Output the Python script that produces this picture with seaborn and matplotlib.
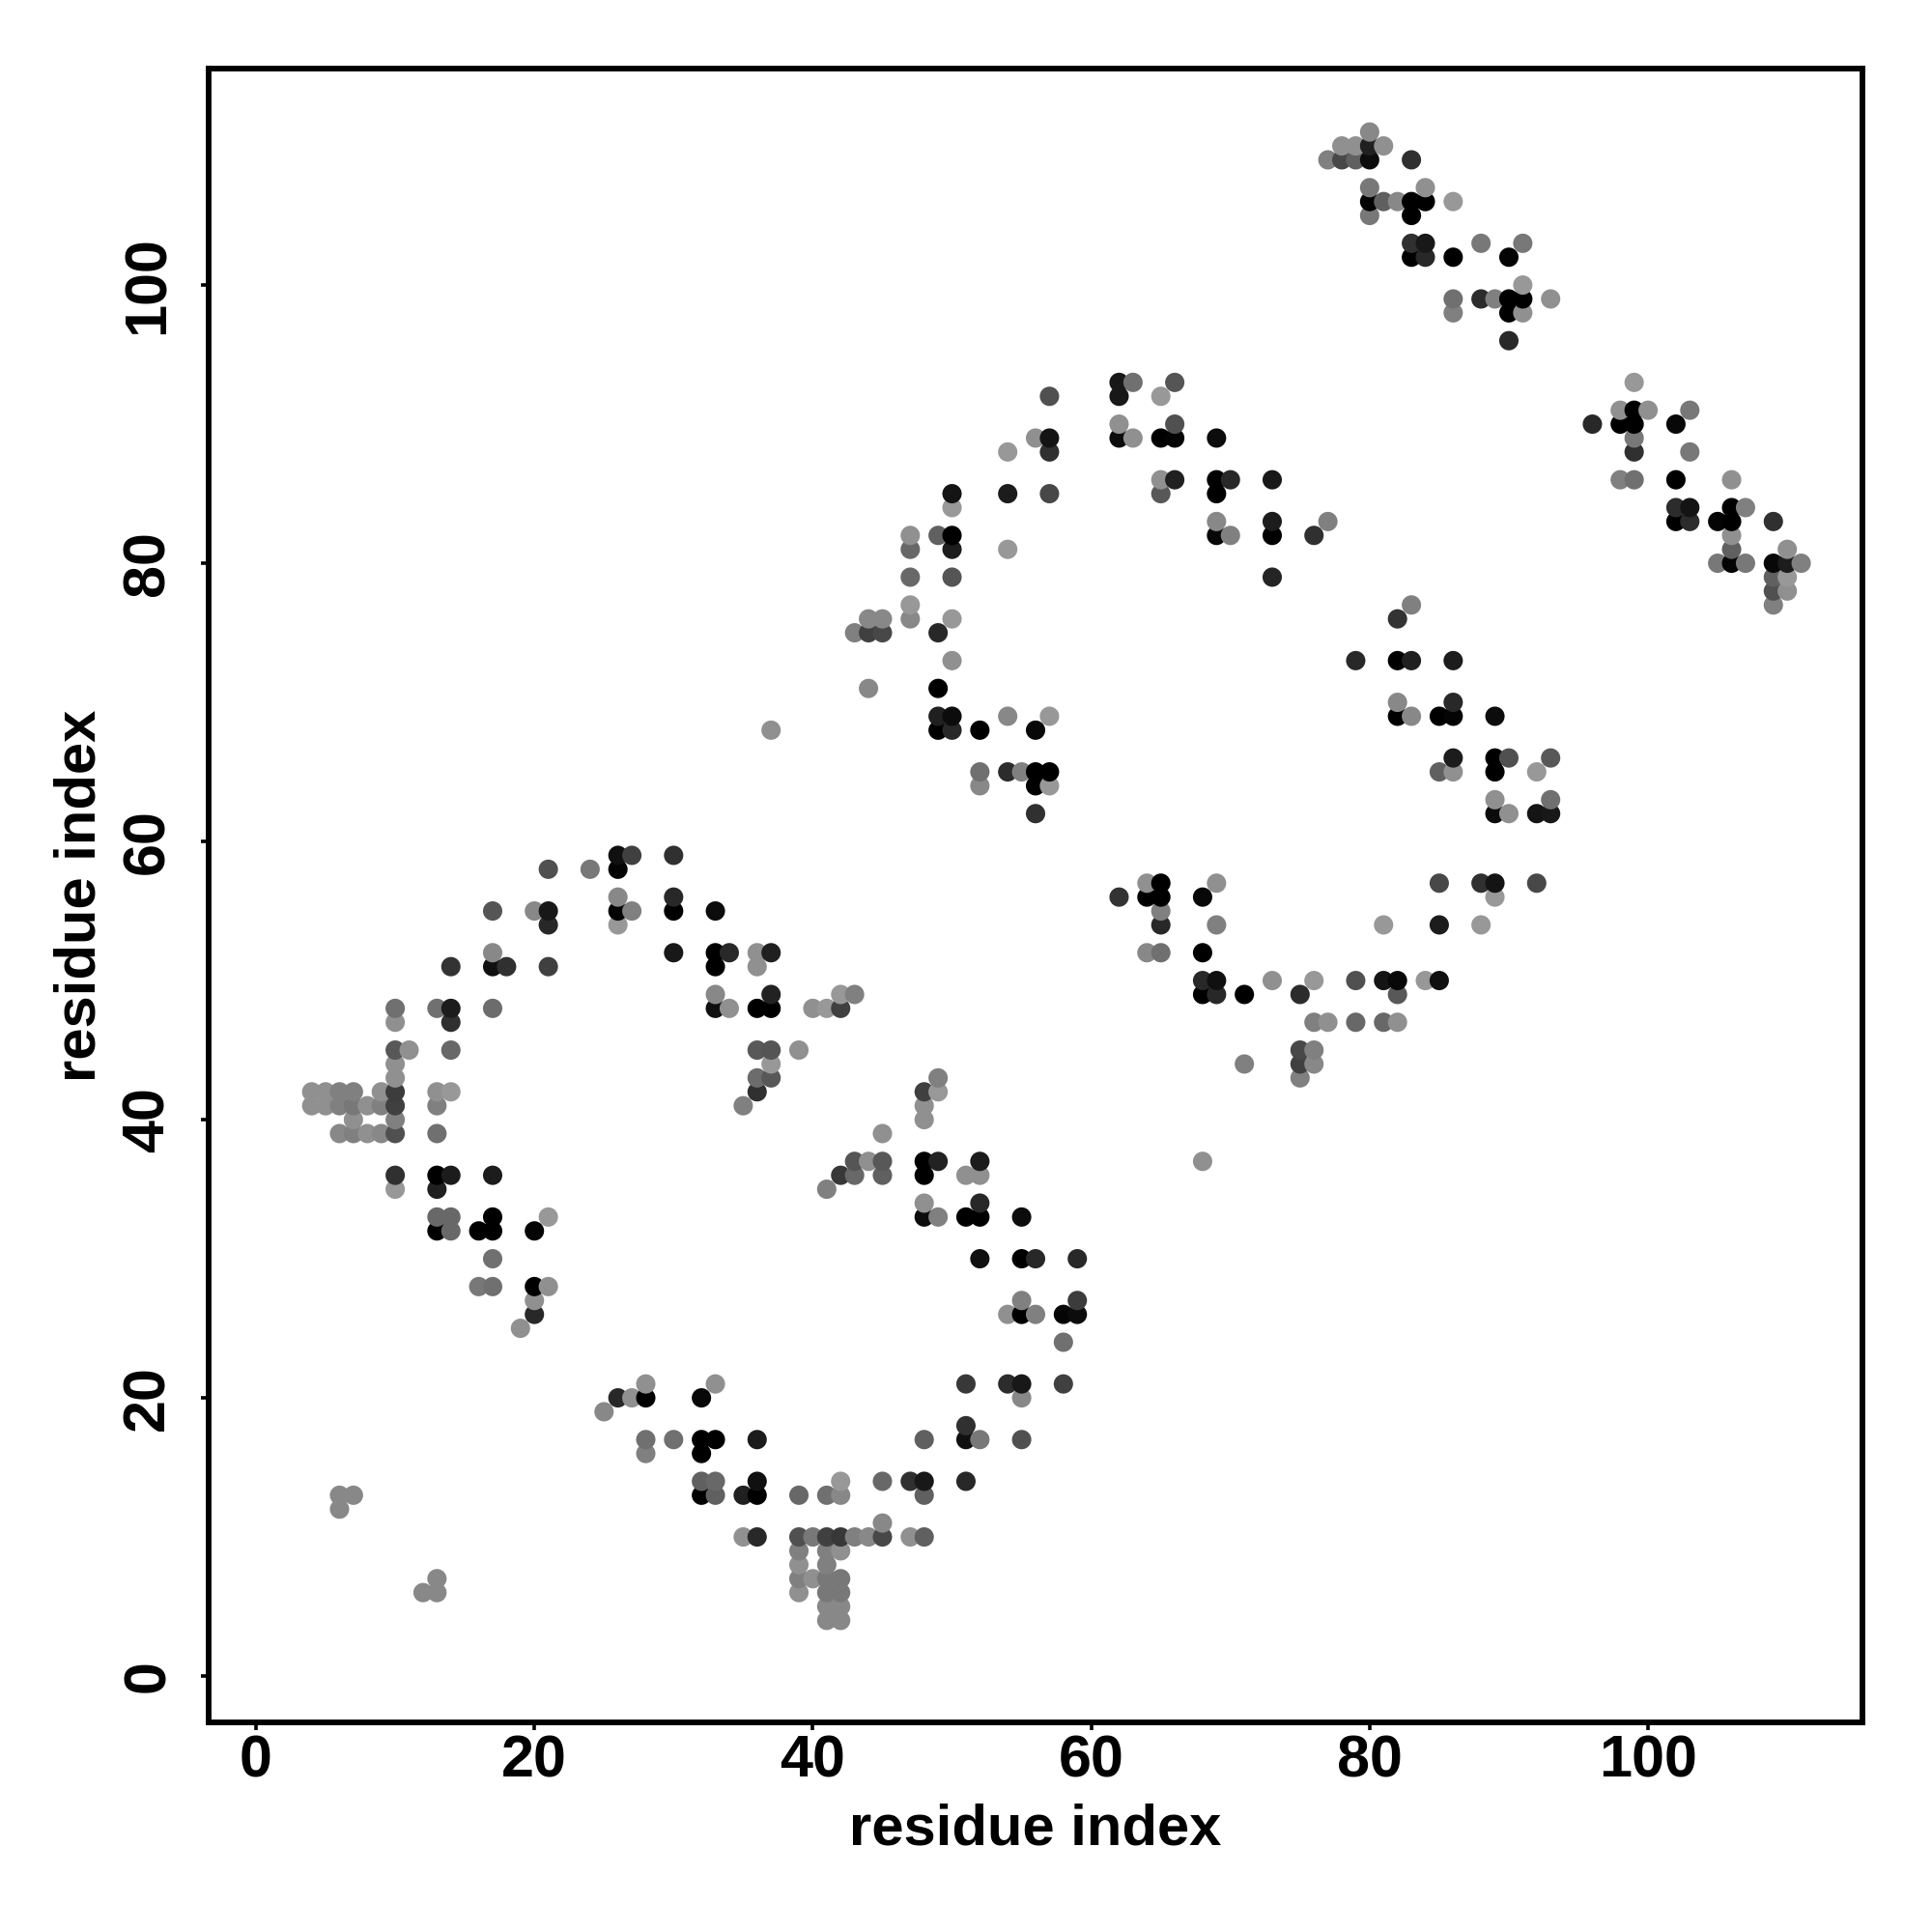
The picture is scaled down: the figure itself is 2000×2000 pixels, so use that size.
import pandas as pd
import matplotlib
matplotlib.use("Agg")
import matplotlib.pyplot as plt
import seaborn as sns

# one row per residue index on the y axis: the partner residues and their grey level (0-255)
row_y = [111,110,109,107,106,105,103,102,100,99,98,96,93,92,91,90,89,88,86,85,84,83,82,81,80,79,78,77,76,75,73,71,70,69,68,66,65,64,63,62,59,58,57,56,55,54,52,51,50,49,48,47,45,44,43,42,41,40,39,37,36,35,34,33,32,30,28,27,26,25,24,21,20,19,18,17,16,14,13,12,11,10,9,8,7,6,5,4]
row_x = [
 [80],[78,79,80,81],[77,78,79,80,83],[80,84],[80,81,82,83,84,86],[80,83],
 [83,84,88,91],[83,84,86,90],[91],[86,88,89,90,91,93],[86,90,91],[90],
 [62,63,66,99],[57,62,65],[98,99,100,103],[62,66,96,98,99,102],[56,57,62,63,65,66,69,99],
 [54,57,99,103],[65,66,69,70,73,98,99,102,106],[50,54,57,65,69],[50,102,103,106,107],
 [69,73,77,102,103,105,106,109],[47,49,50,69,70,73,76,106],[47,50,54,106,110],
 [105,106,107,109,110,111],[47,50,73,109,110],[109,110],[47,83,109],[44,45,47,50,82],
 [43,44,45,49],[50,79,82,83,86],[44,49],[82,86],[49,50,54,57,82,83,85,86,89],
 [37,49,50,52,56],[86,89,90,93],[52,54,55,56,57,85,86,89,92],[52,56,57],[89,93],
 [56,89,90,92,93],[26,27,30],[21,24,26],[64,65,69,85,88,89,92],[26,30,62,64,65,68,89],
 [17,20,21,26,27,30,33,65],[21,26,65,69,81,85,88],[17,30,33,34,36,37,64,65,68],
 [14,17,18,21,33,36],[68,69,73,76,79,81,82,84,85],[33,37,42,43,68,69,71,75,82],
 [10,13,14,17,33,34,36,37,40,41,42],[10,14,76,77,79,81,82],[10,11,14,36,37,39,75,76],
 [10,37,71,75,76],[10,36,37,49,75],[4,5,6,7,9,10,13,14,36,48,49],[4,5,6,7,8,9,10,13,35,48],
 [7,10,48],[6,7,8,9,10,13,45],[43,44,45,48,49,52,68],[10,13,14,17,42,43,45,48,51,52],
 [10,13,41],[48,52],[13,14,17,21,48,49,51,52,55],[13,14,16,17,20],[17,52,55,56,59],
 [16,17,20,21],[20,55,59],[20,54,55,56,58,59],[19],[58],[28,33,51,54,55,58],
 [26,27,28,32,55],[25],[51],[28,30,32,33,36,48,51,52,55],[28,32],
 [32,33,36,42,45,47,48,51],[6,7,32,33,35,36,39,41,42,48],[6],[45],
 [35,36,39,40,41,42,43,44,45,47,48],[39,41,42],[39,41],[13,39,40,41,42],[12,13,39,41,42],
 [41,42],[41,42],
]
row_grey = [
 [0x88],[0x90,0x90,0x20,0x90],[0x80,0x48,0x60,0x0c,0x30],[0x78,0x90],[0x04,0x60,0x88,0,0,0x98],[0x78,0],
 [0x30,0x18,0x78,0x78],[0,0x28,0,0x04],[0x98],[0x70,0x2c,0x80,0,0,0x90],[0x80,0,0x90],[0x28],
 [0x18,0x70,0x55,0x98],[0x50,0x18,0x98],[0x90,0,0x90,0x78],[0x90,0x50,0x28,0,0,0x08],[0x90,0x14,0x0c,0x90,0,0x04,0x0c,0x78],
 [0x98,0x30,0x30,0x78],[0x90,0x20,0,0x28,0x18,0x80,0x70,0,0x90],[0x14,0x1c,0x48,0x58,0],[0x98,0x2c,0x14,0,0x80],
 [0x88,0x1c,0x80,0,0x2c,0x04,0,0x30],[0x90,0x60,0,0x08,0x80,0,0x30,0x90],[0x68,0x1c,0x98,0x60,0x90],
 [0x78,0x04,0x78,0x08,0x1c,0x80],[0x68,0x55,0x24,0x60,0x98],[0x50,0x90],[0x98,0x80,0x80],[0x88,0x88,0x88,0x98,0x33],
 [0x80,0x40,0x48,0x28],[0x90,0x28,0,0x20,0x1c],[0x88,0],[0x88,0x28],[0x20,0x0c,0x88,0x98,0,0x88,0,0x04,0x0c],
 [0x90,0,0x28,0,0x08],[0x1c,0,0x50,0x58],[0x70,0x2c,0x80,0,0,0x60,0x90,0,0x98],[0x88,0,0x98],[0x90,0x70],
 [0x30,0x0c,0x90,0x14,0x18],[0x10,0x40,0x30],[0x50,0x78,0x04],[0x90,0,0x90,0x48,0x30,0x14,0x48],[0x88,0x28,0x33,0,0,0x08,0x98],
 [0x55,0x88,0x18,0x04,0x80,0,0x0c,0x80],[0x28,0x98,0x28,0x80,0x98,0x1c,0x98],[0x88,0x18,0,0x28,0x90,0x20,0x88,0x70,0],
 [0x33,0x10,0x30,0x40,0,0x90],[0x28,0x10,0x90,0x98,0x50,0x14,0x08,0x98,0x10],[0x88,0x22,0x98,0x80,0,0x28,0,0x2c,0x58],
 [0x70,0x70,0x1c,0x6c,0x10,0x90,0,0,0x90,0x98,0x40],[0x90,0x30,0x80,0x90,0x68,0x68,0x90],[0x58,0x90,0x68,0x58,0x55,0x90,0x48,0x80],
 [0x90,0x98,0x80,0x40,0x88],[0x90,0x6c,0x58,0x80,0x80],[0x90,0x90,0x80,0x80,0x90,0x3c,0x90,0x98,0x30,0x40,0x98],[0x90,0x90,0x80,0x78,0x90,0x80,0x40,0x80,0x80,0x90],
 [0x90,0x80,0x90],[0x88,0x80,0x90,0x88,0x50,0x70,0x90],[0x55,0x90,0x58,0,0x22,0x1c,0x90],[0x30,0,0x1c,0x1c,0x38,0x68,0x60,0,0x90,0x90],
 [0x98,0x20,0x80],[0x90,0x28],[0x68,0x68,0,0x98,0x0c,0x80,0,0,0x0c],[0,0x68,0,0,0x05],[0x70,0x10,0,0x28,0x28],
 [0x78,0x70,0,0x90],[0x90,0x80,0x3c],[0x28,0x90,0,0x80,0x05,0x0c],[0x90],[0x70],[0x90,0x90,0x38,0x2c,0x18,0x40],
 [0x28,0x90,0,0x08,0x88],[0x88],[0x30],[0x70,0x70,0,0,0x1c,0x60,0x10,0x78,0x50],[0x80,0],
 [0x60,0x68,0x10,0x98,0x68,0x30,0x18,0x28],[0x88,0x88,0,0x60,0x20,0,0x68,0x70,0x88,0x60],[0x88],[0x88],
 [0x90,0x28,0x50,0x78,0x40,0x38,0x80,0x88,0x48,0x90,0x60],[0x80,0x80,0x90],[0x90,0x80],[0x88,0x80,0x90,0x78,0x78],[0x88,0x88,0x90,0x78,0x78],
 [0x88,0x88],[0x88,0x88],
]
x_ticks = [0, 20, 40, 60, 80, 100]
y_ticks = [0, 20, 40, 60, 80, 100]
axis_label = "residue index"

records = [(x, y, g) for y, xs, gs in zip(row_y, row_x, row_grey) for x, g in zip(xs, gs)]
df = pd.DataFrame(records, columns=["i", "j", "grey"]).sort_values(["i", "j"]).reset_index(drop=True)

sns.set_theme(style="white")
plt.rcParams["font.family"] = ["Liberation Sans", "DejaVu Sans"]

W = H = 2000
fig = plt.figure(figsize=(10, 10), dpi=200, facecolor="white")
ax = fig.add_axes([216/W, 1 - 1783/H, (1928-216)/W, (1783-71)/H])

sns.scatterplot(data=df, x="i", y="j", hue="grey", palette="gray", hue_norm=(0, 255),
                s=52, linewidth=0, legend=False, ax=ax, zorder=3)

ax.set_xlim(-3.40, 115.4)
ax.set_ylim(-3.33, 115.56)
ax.set_xticks(x_ticks)
ax.set_yticks(y_ticks)
ax.tick_params(axis="both", length=3, width=1.3, color="black", labelsize=22,
               labelcolor="black", left=True, bottom=True)
ax.tick_params(axis="x", pad=1.5)
ax.tick_params(axis="y", pad=9)
for t in ax.get_xticklabels():
    t.set_fontweight("bold")
for t in ax.get_yticklabels():
    t.set_fontweight("bold")
    t.set_rotation(90)
    t.set_verticalalignment("center")
ax.set_xlabel(axis_label, fontsize=21.5, fontweight="bold", color="black")
ax.set_ylabel(axis_label, fontsize=21.5, fontweight="bold", color="black")
ax.xaxis.set_label_coords(0.5, -0.0485)
ax.yaxis.set_label_coords(-0.0615, 0.5)
for s in ax.spines.values():
    s.set_visible(True)
    s.set_color("black")
    s.set_linewidth(2.1)
ax.grid(False)
fig.savefig("out.png", dpi=200, facecolor="white")
